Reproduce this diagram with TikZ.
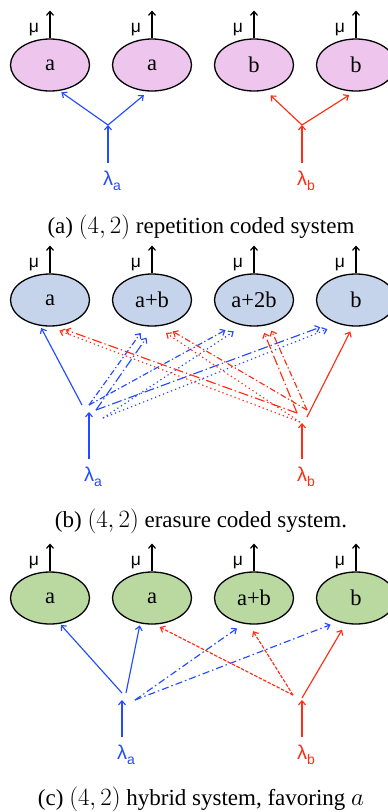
\documentclass[tikz,border=0pt]{standalone}
\usepackage{fontspec}
\setmainfont{Liberation Serif}
\newfontfamily\lsans{Liberation Sans}
\usetikzlibrary{shapes.geometric,arrows.meta,calc}
\definecolor{cblue}{RGB}{35,75,255}
\definecolor{cred}{RGB}{255,45,20}
\definecolor{fpink}{RGB}{237,197,237}
\definecolor{fblue}{RGB}{197,212,234}
\definecolor{fgreen}{RGB}{185,217,160}
\newcommand{\lamsub}[1]{λ\rlap{\raisebox{-5pt}{\fontsize{14}{14}\selectfont #1}}}
\begin{document}
\begin{tikzpicture}[x=1pt,y=-1pt,
  srv/.style={ellipse,draw=black,line width=1.3pt,minimum width=79pt,minimum height=52pt,inner sep=0pt,font=\fontsize{22.5}{22.5}\selectfont},
  mulab/.style={font=\lsans\fontsize{17.5}{17.5}\selectfont,inner sep=0pt,anchor=base},
  lam/.style={font=\lsans\fontsize{20}{20}\selectfont,inner sep=0pt,anchor=base,text height=14pt,text depth=0pt},
  tipstyle/.style={-{Straight Barb[length=4pt,width=7pt]}},
  conn/.style={line width=1.15pt,tipstyle},
  muarr/.style={line width=1.2pt,black,tipstyle},
  lamline/.style={conn,shorten <=7.5pt},
  dashdotA/.style={dash pattern=on 6pt off 2.5pt on 1.3pt off 2.5pt},
  longdd/.style={dash pattern=on 10pt off 3pt on 1.3pt off 3pt},
  dotline/.style={dash pattern=on 1.3pt off 3pt},
  redshort/.style={dash pattern=on 3.5pt off 1.5pt},
  dashdotC/.style={dash pattern=on 7pt off 3pt on 1.5pt off 3pt},
  capt/.style={anchor=base,inner sep=0pt,font=\fontsize{23}{23}\selectfont}
]
\useasboundingbox (0,0) rectangle (388,812);
\clip (0,0) rectangle (388,812);

% ---------------- panel (a) ----------------
\node[srv,fill=fpink] (a1) at (50,65) {a};
\node[srv,fill=fpink] (a2) at (152,65) {a};
\node[srv,fill=fpink] (a3) at (254,65) {b};
\node[srv,fill=fpink] (a4) at (356,65) {b};
\foreach \i/\x in {1/50,2/152,3/254,4/356}{
  \coordinate (ma\i) at (\x,10.5);
  \draw[muarr] (a\i) -- (ma\i);
  \node[mulab] (mua\i) at (\x-16,32) {μ};
}
\node[lam,text=cblue] (laA) at (108,185) {\lamsub{a}};
\node[lam,text=cred] (lbA) at (302,185) {\lamsub{b}};
\coordinate (jA) at (108,125);
\coordinate (jB) at (302,125);
\draw[lamline,cblue] (laA) -- (jA);
\draw[lamline,cred] (lbA) -- (jB);
\draw[conn,cblue,shorten >=2.4pt] (jA) -- (a1.-70.35);
\draw[conn,cblue,shorten >=5.7pt] (jA) -- (a2.-98.88);
\draw[conn,cred,shorten >=7.1pt] (jB) -- (a3.-66.37);
\draw[conn,cred,shorten >=6.5pt] (jB) -- (a4.-93.47);
\node[capt] (capA) at (201,233) {(a) $(4,2)$ repetition coded system};

% ---------------- panel (b) ----------------
\node[srv,fill=fblue] (b1) at (50,300) {a};
\node[srv,fill=fblue] (b2) at (152,300) {a+b};
\node[srv,fill=fblue] (b3) at (254,300) {a+2b};
\node[srv,fill=fblue] (b4) at (356,300) {b};
\foreach \i/\x in {1/50,2/152,3/254,4/356}{
  \coordinate (mb\i) at (\x,245.5);
  \draw[muarr] (b\i) -- (mb\i);
  \node[mulab] (mub\i) at (\x-16,267) {μ};
}
\node[lam,text=cblue] (laB) at (89,481) {\lamsub{a}};
\node[lam,text=cred] (lbB) at (302,481) {\lamsub{b}};
\coordinate (jbA) at (89,412);
\coordinate (jbB) at (302,423);
\draw[lamline,cblue] (laB) -- (jbA);
\draw[lamline,cred] (lbB) -- (jbB);
% blue origins
\coordinate (obS) at (82,405);
\coordinate (obA1) at (89,405);
\coordinate (obA2) at (96,410);
\coordinate (obA3) at (103,418);
\draw[conn,cblue,shorten >=2.5pt] (obS) -- (b1.-111.45);
\draw[conn,cblue,dashdotA,shorten >=8.2pt] (obA1) -- (b2.-104.83);
\draw[conn,cblue,dashdotA,shorten >=12.6pt] (obA1) -- (b3.-126.33);
\draw[conn,cblue,longdd,shorten >=13.5pt] (obA2) -- (b2.-85.7);
\draw[conn,cblue,longdd,shorten >=14.5pt] (obA2) -- (b4.-135.88);
\draw[conn,cblue,dotline,shorten >=10.6pt] (obA3) -- (b3.-114.57);
\draw[conn,cblue,dotline,shorten >=13.2pt] (obA3) -- (b4.-124.44);
% red origins
\coordinate (orS) at (307,417);
\coordinate (orR1) at (297,413);
\coordinate (orR3) at (307,410);
\coordinate (orR2) at (300,422);
\draw[conn,cred,shorten >=5.5pt] (orS) -- (b4.-97.1);
\draw[conn,cred,longdd,shorten >=10pt] (orR1) -- (b1.-77.47);
\draw[conn,cred,longdd,shorten >=7.2pt] (orR1) -- (b3.-74.74);
\draw[conn,cred,dashdotA,shorten >=11.3pt] (orR3) -- (b2.-67.38);
\draw[conn,cred,dashdotA,shorten >=6.3pt] (orR3) -- (b3.-59.04);
\draw[conn,cred,dotline,shorten >=11.5pt] (orR2) -- (b1.-93.0);
\draw[conn,cred,dotline,shorten >=11.8pt] (orR2) -- (b2.-81.03);
\node[capt] (capB) at (201,527) {(b) $(4,2)$ erasure coded system.};

% ---------------- panel (c) ----------------
\node[srv,fill=fgreen] (c1) at (50,598) {a};
\node[srv,fill=fgreen] (c2) at (152,598) {a};
\node[srv,fill=fgreen] (c3) at (254,598) {a+b};
\node[srv,fill=fgreen] (c4) at (356,598) {b};
\foreach \i/\x in {1/50,2/152,3/254,4/356}{
  \coordinate (mc\i) at (\x,543.5);
  \draw[muarr] (c\i) -- (mc\i);
  \node[mulab] (muc\i) at (\x-16,565) {μ};
}
\node[lam,text=cblue] (laC) at (122,759) {\lamsub{a}};
\node[lam,text=cred] (lbC) at (302,759) {\lamsub{b}};
\coordinate (jcA) at (122,700);
\coordinate (jcB) at (302,700);
\draw[lamline,cblue] (laC) -- (jcA);
\draw[lamline,cred] (lbC) -- (jcB);
\coordinate (ocS1) at (122,693);
\coordinate (ocS2) at (126,693);
\coordinate (ocD) at (135,700);
\coordinate (ocR) at (302,698);
\coordinate (ocRd) at (293,695);
\draw[conn,cblue,shorten >=1.4pt] (ocS1) -- (c1.-69.68);
\draw[conn,cblue,shorten >=2pt] (ocS2) -- (c2.-115.71);
\draw[conn,cblue,dashdotC,shorten >=8.1pt] (ocD) -- (c3.-112.99);
\draw[conn,cblue,dashdotC,shorten >=8pt] (ocD) -- (c4.-127.48);
\draw[conn,cred,shorten >=6.9pt] (ocR) -- (c4.-112.1);
\draw[conn,cred,redshort,shorten >=5.5pt] (ocRd) -- (c2.-84.64);
\draw[conn,cred,redshort,shorten >=7.9pt] (ocRd) -- (c3.-101.63);
\node[capt] (capC) at (201,805) {(c) $(4,2)$ hybrid system, favoring $a$};
\end{tikzpicture}
\end{document}
